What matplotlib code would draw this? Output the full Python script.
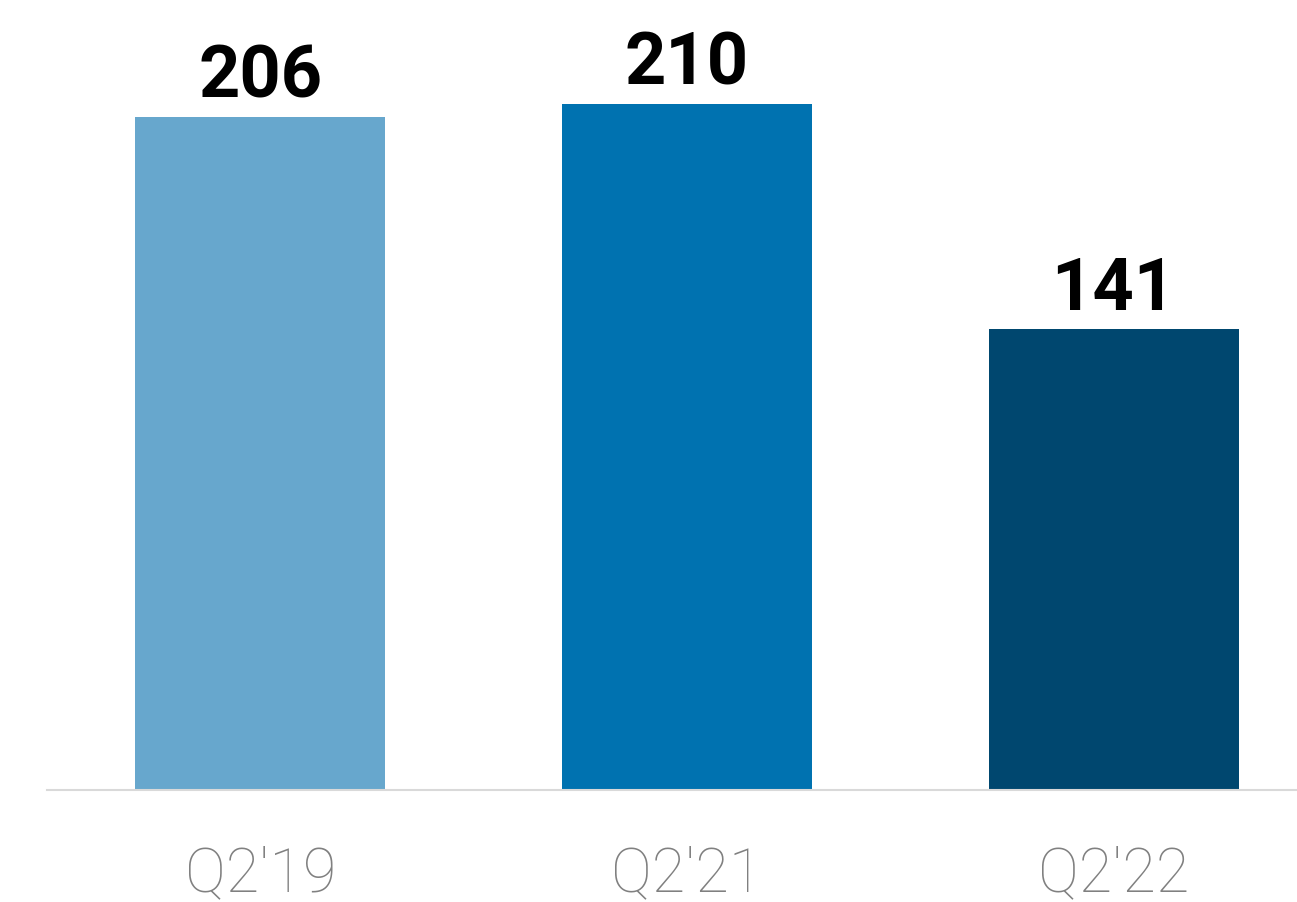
import matplotlib
matplotlib.use('Agg')
import matplotlib.pyplot as plt

# Chart data
quarters = ["Q2'19", "Q2'21", "Q2'22"]
counts = [206, 210, 141]
bar_colors = ['#67A7CD', '#0072B0', '#00476F']

fig = plt.figure(figsize=(12.97, 9.02), dpi=100)
ax = fig.add_axes([0.0362, 0.1242, 0.9638, 0.8758])

x = range(len(quarters))
bars = ax.bar(x, counts, width=0.586, color=bar_colors)

# Value labels above bars
for xi, val in zip(x, counts):
    ax.annotate(str(val), (xi, val), xytext=(0, 3), textcoords='offset points',
                ha='center', va='bottom', fontsize=52, fontweight='bold',
                family=['Roboto', 'DejaVu Sans'], color='black')

ax.set_xlim(-0.5, 2.43)
ax.set_ylim(0, 241.8)
ax.set_xticks(list(x))
ax.set_xticklabels(quarters, fontsize=44, color='#808080',
                   family=['Roboto', 'DejaVu Sans'], fontweight='light')
ax.tick_params(axis='x', length=0, pad=40)
ax.set_yticks([])

# Only a light baseline
for side in ['top', 'right', 'left']:
    ax.spines[side].set_visible(False)
ax.spines['bottom'].set_color('#D9D9D9')
ax.spines['bottom'].set_linewidth(1.5)

fig.savefig('out.png', dpi=100)
